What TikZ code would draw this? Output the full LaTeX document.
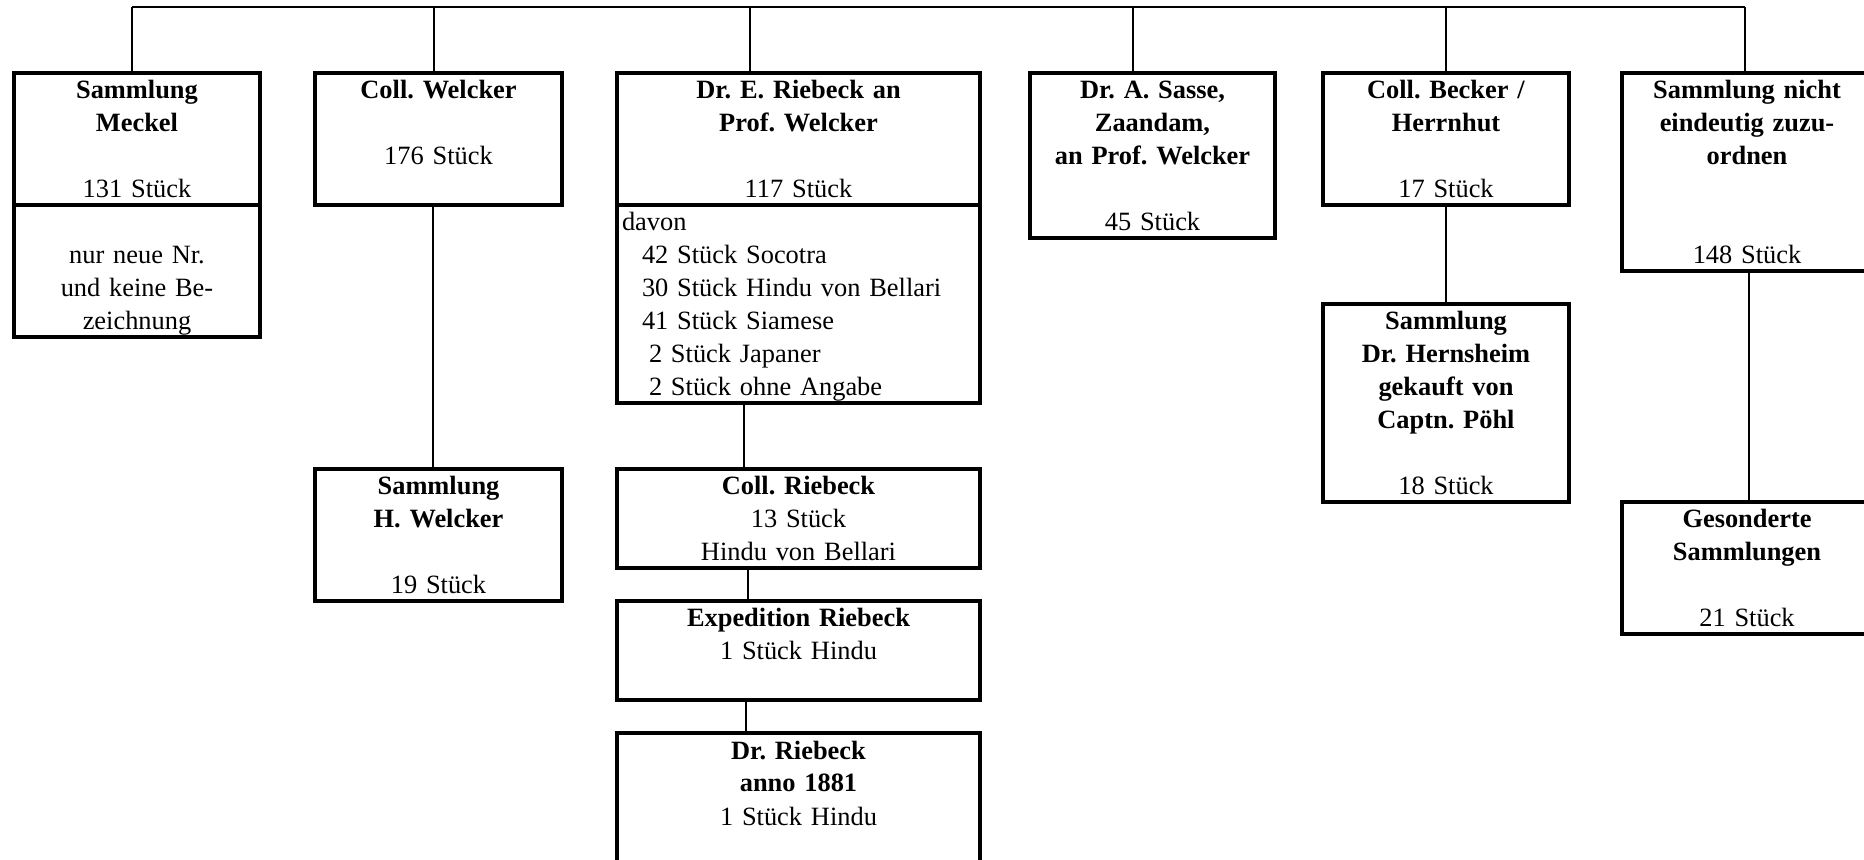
\documentclass[tikz,border=0pt]{standalone}
\usepackage{fontspec}
\setmainfont{Liberation Serif}
\usepackage{tikz}

\newcommand\cellfont{\fontsize{13.2}{16.5}\selectfont\frenchspacing}

\begin{document}
\begin{tikzpicture}[
    x=0.5pt, y=-0.5pt,
    cell/.style={draw, line width=2pt, anchor=north west, inner sep=0pt, align=center, font=\cellfont, text height=13pt},
    rows/.style={text depth={16.5pt*#1-13pt}},
    wide/.style={text width=#1pt},
    link/.style={line width=1.1pt, draw=black}
]
\useasboundingbox (0,0) rectangle (1864,860);

% Top-level collections
\node[cell, wide=123, rows=4] (meckel) at (12,71) {\textbf{Sammlung}\\\textbf{Meckel}\\[16.5pt]131 Stück};
\node[cell, wide=123, rows=4] (meckelnote) at (12,203) {\mbox{}\\nur neue Nr.\\und keine Be-\\zeichnung};

\node[cell, wide=123.5, rows=4] (welcker) at (313,71) {\textbf{Coll. Welcker}\\[16.5pt]176 Stück};

\node[cell, wide=181.5, rows=4] (riebeck) at (615,71) {\textbf{Dr. E. Riebeck an}\\\textbf{Prof. Welcker}\\[16.5pt]117 Stück};
\node[cell, wide=176.5, rows=6, inner xsep=2.5pt, align=left] (davon) at (615,203) {davon\\
    \hspace*{10pt}42 Stück Socotra\\
    \hspace*{10pt}30 Stück Hindu von Bellari\\
    \hspace*{10pt}41 Stück Siamese\\
    \hspace*{13.5pt}2 Stück Japaner\\
    \hspace*{13.5pt}2 Stück ohne Angabe};

\node[cell, wide=122.5, rows=5] (sasse) at (1028,71) {\textbf{Dr. A. Sasse,}\\\textbf{Zaandam,}\\\textbf{an Prof. Welcker}\\[16.5pt]45 Stück};

\node[cell, wide=123, rows=4] (becker) at (1321,71) {\textbf{Coll. Becker /}\\\textbf{Herrnhut}\\[16.5pt]17 Stück};

\node[cell, wide=125, rows=6] (nicht) at (1620,71) {\textbf{Sammlung nicht}\\\textbf{eindeutig zuzu-}\\\textbf{ordnen}\\[33pt]148 Stück};

% Sub-collections
\node[cell, wide=123.5, rows=4] (hwelcker) at (313,467) {\textbf{Sammlung}\\\textbf{H. Welcker}\\[16.5pt]19 Stück};

\node[cell, wide=181.5, rows=3] (collrieb) at (615,467) {\textbf{Coll. Riebeck}\\13 Stück\\Hindu von Bellari};
\node[cell, wide=181.5, rows=3] (exped) at (615,599) {\textbf{Expedition Riebeck}\\1 Stück Hindu};
\node[cell, wide=181.5, rows=4] (anno) at (615,731) {\textbf{Dr. Riebeck}\\\textbf{anno 1881}\\1 Stück Hindu};

\node[cell, wide=123, rows=6] (hernsheim) at (1321,302) {\textbf{Sammlung}\\\textbf{Dr. Hernsheim}\\\textbf{gekauft von}\\\textbf{Captn. Pöhl}\\[16.5pt]18 Stück};

\node[cell, wide=125, rows=4] (gesondert) at (1620,500) {\textbf{Gesonderte}\\\textbf{Sammlungen}\\[16.5pt]21 Stück};

% Top bar
\coordinate (tl) at (132,7);
\coordinate (tr) at (1745,7);
\draw[link] (tl) -- (tr);
\foreach \n/\x in {meckel/132, welcker/434, riebeck/750, sasse/1133, becker/1446, nicht/1745}
    \draw[link] (tl -| \x,0) -- (\n.north -| \x,0);

% Links to sub-collections
\draw[link] (welcker.south -| 433,0) -- (hwelcker.north -| 433,0);
\draw[link] (davon.south -| 744,0) -- (collrieb.north -| 744,0);
\draw[link] (collrieb.south -| 748,0) -- (exped.north -| 748,0);
\draw[link] (exped.south -| 746,0) -- (anno.north -| 746,0);
\draw[link] (becker.south -| 1446,0) -- (hernsheim.north -| 1446,0);
\draw[link] (nicht.south -| 1749,0) -- (gesondert.north -| 1749,0);

\end{tikzpicture}
\end{document}
